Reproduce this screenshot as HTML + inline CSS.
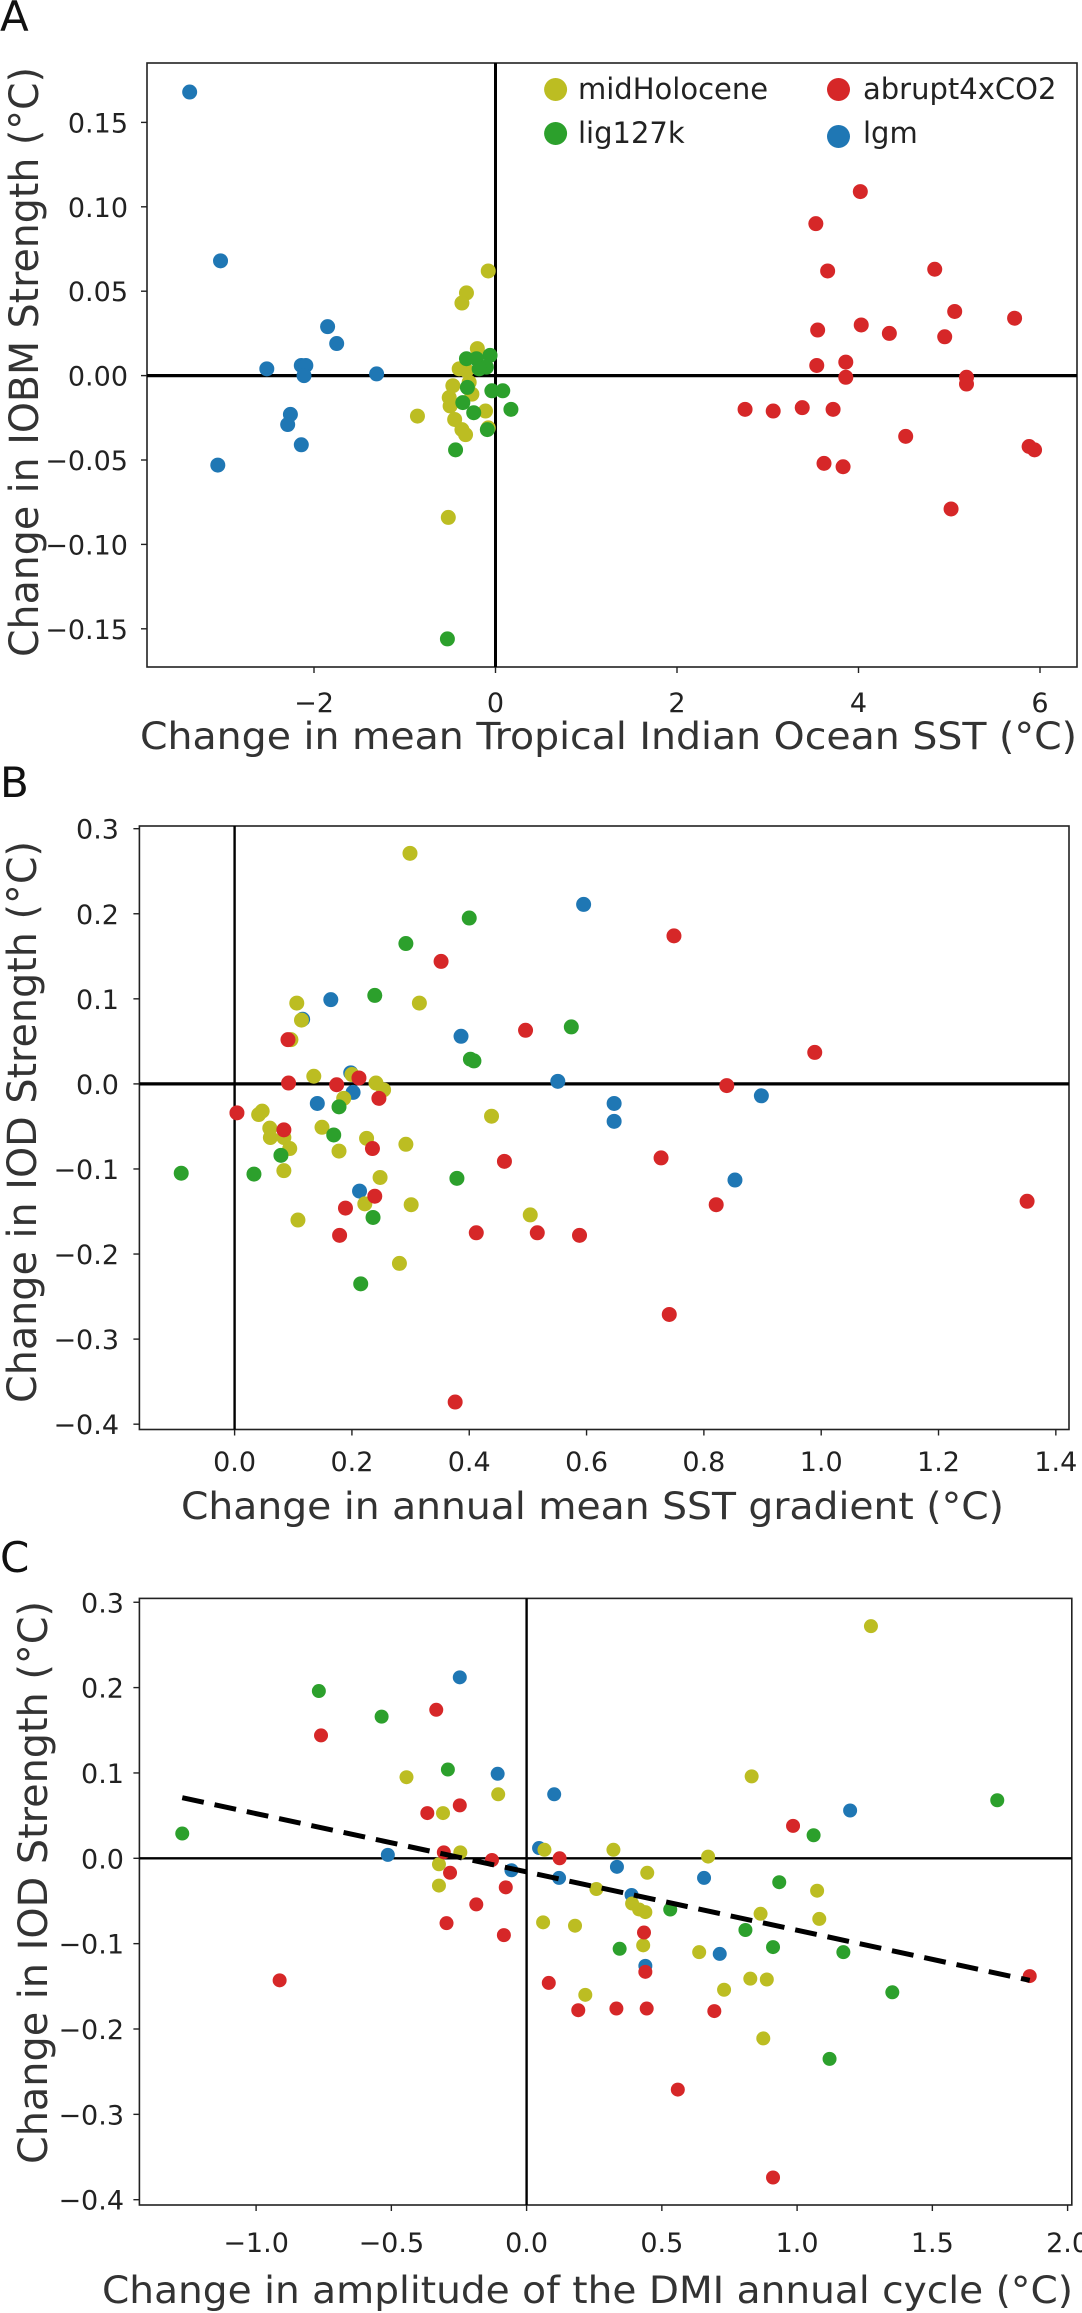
<!DOCTYPE html>
<html><head><meta charset="utf-8">
<style>
html,body{margin:0;padding:0;background:#fff;}
svg{display:block;font-family:"DejaVu Sans","Liberation Sans",sans-serif;}
</style></head>
<body>
<svg id="fig" width="1082" height="2313" viewBox="0 0 1082 2313" xmlns="http://www.w3.org/2000/svg">
<text x="0" y="31" font-size="42" fill="#111">A</text>
<text x="0" y="797" font-size="42" fill="#111">B</text>
<text x="0" y="1572" font-size="42" fill="#111">C</text>
</svg>
<script>
// ---------- Panel A data ----------
const aXTicks = [-2, 0, 2, 4, 6];
const aXTickLabels = ["\u22122", "0", "2", "4", "6"];
const aYTicks = [-0.15, -0.10, -0.05, 0.00, 0.05, 0.10, 0.15];
const aYTickLabels = ["\u22120.15", "\u22120.10", "\u22120.05", "0.00", "0.05", "0.10", "0.15"];
const aLgmX = [-3.37, -3.03, -1.85, -1.75, -2.52, -2.14, -2.09, -2.11, -1.31, -2.26, -2.29, -2.14, -3.06];
const aLgmY = [0.168, 0.068, 0.029, 0.019, 0.004, 0.006, 0.006, 0.0, 0.001, -0.023, -0.029, -0.041, -0.053];
const aMidX = [-0.08, -0.32, -0.37, -0.2, -0.4, -0.29, -0.47, -0.26, -0.51, -0.5, -0.11, -0.86, -0.45, -0.37, -0.33, -0.08, -0.52, -0.32];
const aMidY = [0.062, 0.049, 0.043, 0.016, 0.004, -0.004, -0.006, -0.011, -0.013, -0.018, -0.021, -0.024, -0.026, -0.032, -0.035, -0.031, -0.084, 0.003];
const aLigX = [-0.32, -0.21, -0.06, -0.1, -0.18, -0.31, -0.04, 0.08, -0.36, -0.24, 0.17, -0.09, -0.44, -0.53];
const aLigY = [0.010, 0.010, 0.012, 0.005, 0.004, -0.007, -0.009, -0.009, -0.016, -0.022, -0.020, -0.032, -0.044, -0.156];
const aCo2X = [4.02, 3.53, 3.66, 4.84, 5.06, 5.72, 4.03, 3.55, 4.34, 4.95, 3.54, 3.86, 3.86, 5.19, 5.19, 2.75, 3.06, 3.38, 3.72, 4.52, 5.88, 5.94, 3.62, 3.83, 5.02];
const aCo2Y = [0.109, 0.090, 0.062, 0.063, 0.038, 0.034, 0.030, 0.027, 0.025, 0.023, 0.006, 0.008, -0.001, -0.001, -0.005, -0.020, -0.021, -0.019, -0.020, -0.036, -0.042, -0.044, -0.052, -0.054, -0.079];

// ---------- Panel B data ----------
const bXTicks = [0, 0.2, 0.4, 0.6, 0.8, 1.0, 1.2, 1.4];
const bXTickLabels = ["0.0", "0.2", "0.4", "0.6", "0.8", "1.0", "1.2", "1.4"];
const bYTicks = [-0.4, -0.3, -0.2, -0.1, 0.0, 0.1, 0.2, 0.3];
const bYTickLabels = ["\u22120.4", "\u22120.3", "\u22120.2", "\u22120.1", "0.0", "0.1", "0.2", "0.3"];
const bMidX = [0.299, 0.315, 0.106, 0.114, 0.096, 0.135, 0.2, 0.241, 0.254, 0.186, 0.047, 0.041, 0.06, 0.061, 0.149, 0.084, 0.094, 0.178, 0.225, 0.292, 0.438, 0.084, 0.248, 0.222, 0.301, 0.504, 0.108, 0.281];
const bMidY = [0.271, 0.095, 0.095, 0.075, 0.052, 0.009, 0.011, 0.001, -0.007, -0.017, -0.032, -0.036, -0.052, -0.063, -0.051, -0.063, -0.076, -0.079, -0.064, -0.071, -0.038, -0.102, -0.110, -0.141, -0.142, -0.154, -0.160, -0.211];
const bLigX = [0.4, 0.292, 0.239, 0.574, 0.402, 0.408, 0.178, 0.169, 0.079, -0.091, 0.033, 0.379, 0.236, 0.215];
const bLigY = [0.195, 0.165, 0.104, 0.067, 0.029, 0.027, -0.027, -0.060, -0.084, -0.105, -0.106, -0.111, -0.157, -0.235];
const bLgmX = [0.595, 0.164, 0.116, 0.386, 0.198, 0.202, 0.141, 0.551, 0.647, 0.647, 0.898, 0.853, 0.213];
const bLgmY = [0.211, 0.099, 0.076, 0.056, 0.013, -0.010, -0.023, 0.003, -0.023, -0.044, -0.014, -0.113, -0.126];
const bCo2X = [0.352, 0.749, 0.496, 0.989, 0.091, 0.092, 0.174, 0.212, 0.246, 0.839, 0.004, 0.084, 0.235, 0.46, 0.727, 0.239, 0.189, 0.821, 1.351, 0.179, 0.412, 0.516, 0.588, 0.741, 0.376];
const bCo2Y = [0.144, 0.174, 0.063, 0.037, 0.052, 0.001, -0.001, 0.007, -0.017, -0.002, -0.034, -0.054, -0.076, -0.091, -0.087, -0.132, -0.146, -0.142, -0.138, -0.178, -0.175, -0.175, -0.178, -0.271, -0.374];

// ---------- Panel C data ----------
const cXTicks = [-1.0, -0.5, 0.0, 0.5, 1.0, 1.5, 2.0];
const cXTickLabels = ["\u22121.0", "\u22120.5", "0.0", "0.5", "1.0", "1.5", "2.0"];
const cYTicks = [-0.4, -0.3, -0.2, -0.1, 0.0, 0.1, 0.2, 0.3];
const cYTickLabels = ["\u22120.4", "\u22120.3", "\u22120.2", "\u22120.1", "0.0", "0.1", "0.2", "0.3"];
const cLigX = [-0.768, -0.536, -0.291, -1.273, 1.74, 1.061, 0.934, 0.531, 0.809, 0.911, 0.344, 1.171, 1.352, 1.12];
const cLigY = [0.196, 0.166, 0.104, 0.029, 0.068, 0.027, -0.028, -0.060, -0.084, -0.104, -0.106, -0.110, -0.157, -0.235];
const cLgmX = [-0.247, -0.107, 0.102, 1.196, -0.513, 0.046, -0.056, 0.12, 0.334, 0.656, 0.388, 0.714, 0.439];
const cLgmY = [0.212, 0.099, 0.075, 0.056, 0.004, 0.012, -0.014, -0.023, -0.010, -0.023, -0.043, -0.112, -0.126];
const cMidX = [1.273, 0.832, -0.444, -0.105, -0.309, -0.245, 0.066, 0.321, 0.671, -0.324, 0.446, -0.324, 0.258, 1.074, 0.39, 0.416, 0.439, 0.865, 1.082, 0.061, 0.179, 0.431, 0.638, 0.827, 0.888, 0.73, 0.217, 0.875];
const cMidY = [0.272, 0.096, 0.095, 0.075, 0.053, 0.007, 0.010, 0.010, 0.002, -0.007, -0.017, -0.032, -0.036, -0.038, -0.053, -0.060, -0.063, -0.065, -0.071, -0.075, -0.079, -0.102, -0.110, -0.141, -0.142, -0.154, -0.160, -0.211];
const cCo2X = [-0.334, -0.76, -0.247, -0.367, 0.985, -0.306, -0.128, 0.122, -0.283, -0.077, -0.186, -0.296, 0.434, -0.084, 0.439, -0.913, 0.082, 0.332, 0.444, 0.191, 0.694, 1.86, 0.559, 0.911];
const cCo2Y = [0.174, 0.144, 0.062, 0.053, 0.038, 0.007, -0.002, 0.0, -0.017, -0.034, -0.054, -0.076, -0.087, -0.090, -0.133, -0.143, -0.146, -0.176, -0.176, -0.178, -0.179, -0.138, -0.271, -0.374];
const cTrendX = [-1.273, 1.86];
const cTrendY = [0.071, -0.143];

const NS = "http://www.w3.org/2000/svg";
const svg = document.getElementById('fig');
const COL = {mid:"#bcbd22", lig:"#2ca02c", co2:"#d62728", lgm:"#1f77b4"};

function mk(tag, attrs, parent) {
  const e = document.createElementNS(NS, tag);
  for (const k in attrs) e.setAttribute(k, attrs[k]);
  (parent || svg).appendChild(e);
  return e;
}

function panel(p) {
  const g = mk('g', {});
  
  
  const sx = v => p.x0 + v * p.xu;
  const sy = v => p.y0 - v * p.yu;
  // frame
  const fr = mk('rect', {x:p.L, y:p.T, width:p.R-p.L, height:p.B-p.T, fill:'none', stroke:'#222', 'stroke-width':1.6}, g);
  
  
  // x ticks
  p.xt.forEach((v, i) => {
    const x = sx(v);
    const t = mk('line', {x1:x, x2:x, y1:p.B, y2:p.B+6, stroke:'#222', 'stroke-width':1.4}, g);
    
    
    const tx = mk('text', {x:x, y:p.xlb, 'font-size':27, 'text-anchor':'middle', fill:'#222'}, g);
    tx.textContent = p.xl[i];
    
    
  });
  p.yt.forEach((v, i) => {
    const y = sy(v);
    const t = mk('line', {x1:p.L-6, x2:p.L, y1:y, y2:y, stroke:'#222', 'stroke-width':1.4}, g);
    
    
    const tx = mk('text', {x:p.ylx, y:y+10, 'font-size':27, 'text-anchor':'end', fill:'#222'}, g);
    tx.textContent = p.yl[i];
    
    
  });
  // zero lines
  const hz = mk('line', {x1:p.L, x2:p.R, y1:sy(0), y2:sy(0), stroke:'#000', 'stroke-width':p.hw}, g);
  
  
  const vz = mk('line', {x1:sx(0), x2:sx(0), y1:p.T, y2:p.B, stroke:'#000', 'stroke-width':p.vw}, g);
  
  
  // series
  p.series.forEach(s => {
    s.xs.forEach((xv, i) => {
      const c = mk('circle', {cx:sx(xv), cy:sy(s.ys[i]), r:p.r, fill:COL[s.key]}, g);
      
      
    });
  });
  if (p.trend) {
    const l = mk('line', {x1:sx(p.trend[0][0]), y1:sy(p.trend[1][0]), x2:sx(p.trend[0][1]), y2:sy(p.trend[1][1]), stroke:'#000', 'stroke-width':5, 'stroke-dasharray':'22 11'}, g);
    
    
  }
  // titles
  const xt = mk('text', {x:p.xtx, y:p.xty, 'font-size':37, fill:'#333', textLength:p.xtl, lengthAdjust:'spacingAndGlyphs'}, g);
  xt.textContent = p.xtitle;
  
  
  const yt = mk('text', {x:0, y:0, 'font-size':40, fill:'#333', textLength:p.ytl, lengthAdjust:'spacingAndGlyphs', transform:`translate(${p.ytx},${p.yty}) rotate(-90)`}, g);
  yt.textContent = p.ytitle;
  
  
}

panel({name:'panel-a', L:147, R:1077, T:63, B:667, x0:495.5, xu:90.75, y0:375.6, yu:1688,
  xt:aXTicks, xl:aXTickLabels, yt:aYTicks, yl:aYTickLabels, xlb:712, ylx:128, hw:3.2, vw:3,
  r:7.5,
  series:[{key:'lgm', xs:aLgmX, ys:aLgmY},{key:'mid', xs:aMidX, ys:aMidY},{key:'lig', xs:aLigX, ys:aLigY},{key:'co2', xs:aCo2X, ys:aCo2Y}],
  xtitle:'Change in mean Tropical Indian Ocean SST (\u00B0C)', xtx:140, xty:749, xtl:937,
  ytitle:'Change in IOBM Strength (\u00B0C)', ytx:38, yty:657, ytl:590});

panel({name:'panel-b', L:139.4, R:1069, T:826, B:1429.5, x0:234.6, xu:586.6, y0:1083.9, yu:850.7,
  xt:bXTicks, xl:bXTickLabels, yt:bYTicks, yl:bYTickLabels, xlb:1471, ylx:119, hw:3.2, vw:2.4,
  r:7.5,
  series:[{key:'lgm', xs:bLgmX, ys:bLgmY},{key:'mid', xs:bMidX, ys:bMidY},{key:'lig', xs:bLigX, ys:bLigY},{key:'co2', xs:bCo2X, ys:bCo2Y}],
  xtitle:'Change in annual mean SST gradient (\u00B0C)', xtx:181, xty:1519, xtl:823,
  ytitle:'Change in IOD Strength (\u00B0C)', ytx:36, yty:1403, ytl:562});

panel({name:'panel-c', L:139.4, R:1071.8, T:1598.4, B:2205, x0:526.6, xu:270.5, y0:1858.3, yu:853.5,
  xt:cXTicks, xl:cXTickLabels, yt:cYTicks, yl:cYTickLabels, xlb:2252, ylx:124, hw:2.4, vw:2.4,
  r:7,
  series:[{key:'lig', xs:cLigX, ys:cLigY},{key:'lgm', xs:cLgmX, ys:cLgmY},{key:'mid', xs:cMidX, ys:cMidY},{key:'co2', xs:cCo2X, ys:cCo2Y}],
  trend:[cTrendX, cTrendY],
  xtitle:'Change in amplitude of the DMI annual cycle (\u00B0C)', xtx:102, xty:2303, xtl:971,
  ytitle:'Change in IOD Strength (\u00B0C)', ytx:47, yty:2164, ytl:563});

// legend (panel A)
const legend = [
  {key:'mid', label:'midHolocene', cx:555.6, cy:89.5, tx:578, ty:99},
  {key:'lig', label:'lig127k', cx:555.6, cy:133.5, tx:578, ty:143},
  {key:'co2', label:'abrupt4xCO2', cx:838.5, cy:89.5, tx:863, ty:99},
  {key:'lgm', label:'lgm', cx:838.5, cy:136.5, tx:863, ty:143}
];
legend.forEach(e => {
  const c = mk('circle', {cx:e.cx, cy:e.cy, r:11.5, fill:COL[e.key]});
  
  
  const t = mk('text', {x:e.tx, y:e.ty, 'font-size':29, fill:'#222'});
  t.textContent = e.label;
  
  
});
</script>
</body></html>
